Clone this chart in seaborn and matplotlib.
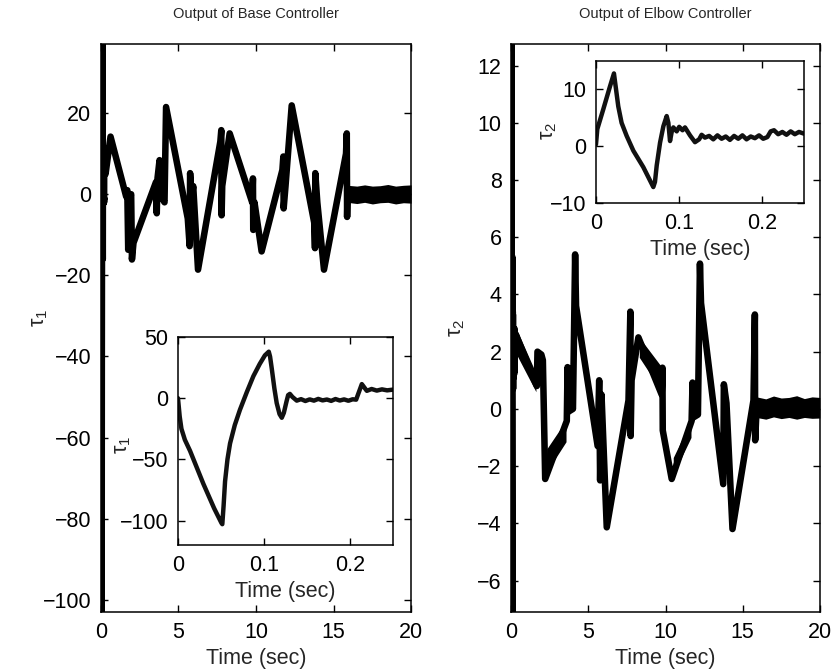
import numpy as np

import matplotlib
matplotlib.use('AGG')
import matplotlib.pyplot as plt
import seaborn as sns
sns.set_theme(style="white", rc={
        "axes.edgecolor": "black",
        "axes.linewidth": 1.1,
        "xtick.direction": "in",
        "ytick.direction": "in",
        "xtick.top": True,
        "ytick.right": True,
        "xtick.bottom": True,
        "ytick.left": True})
plt.rcParams['font.family'] = ['Liberation Sans', 'DejaVu Sans']
plt.rcParams['mathtext.fontset'] = 'custom'
plt.rcParams['mathtext.rm'] = 'Liberation Sans'
plt.rcParams['mathtext.it'] = 'Liberation Sans'

#--------------------------------------------------------------------
# data
#--------------------------------------------------------------------

# base controller, first 0.25 s (inset)
base_zoom_t = [0.0, 0.002, 0.004, 0.008, 0.014, 0.0295, 0.042, 0.0505, 0.0515,
               0.053, 0.0547, 0.0575, 0.0605, 0.066, 0.072, 0.080, 0.0876,
               0.095, 0.101, 0.1055, 0.107, 0.109, 0.112, 0.1147, 0.118,
               0.1206, 0.123, 0.126, 0.128, 0.130, 0.133, 0.138, 0.143, 0.148,
               0.153, 0.158, 0.163, 0.168, 0.173, 0.178, 0.183, 0.188, 0.193,
               0.198, 0.203, 0.207, 0.2136, 0.2194, 0.225, 0.231, 0.237, 0.243,
               0.25]
base_zoom_v = [0.0, -15.0, -25.0, -34.0, -43.0, -70.0, -90.0, -102.0, -103.0,
               -88.0, -68.0, -50.0, -37.0, -22.0, -9.5, 5.0, 18.0,
               28.0, 35.0, 38.0, 34.0, 24.0, 8.0, -4.0, -13.0,
               -16.0, -12.0, -3.0, 2.5, 3.5, 1.0, -2.0, -0.8, -2.3,
               -1.0, -2.0, -0.6, -1.8, -1.1, -2.2, -0.7, -1.9, -1.0,
               -2.1, -0.9, -1.2, 11.5, 6.0, 7.5, 6.2, 7.2, 6.4,
               7.0]

# base controller, 0.25 s .. 20 s
base_t = [0.3, 0.62, 1.63, 1.70, 1.76, 1.85, 1.95, 2.0, 2.1, 3.55, 3.6, 3.65,
          3.78, 3.8, 4.1, 4.2, 5.6, 5.72, 5.75, 5.85, 5.95, 6.26, 7.7, 7.76,
          7.78, 7.82, 8.3, 9.75, 9.8, 9.82, 9.9, 10.36, 11.7, 11.76, 11.78,
          11.9, 12.3, 13.75, 13.8, 13.82, 13.95, 14.38, 15.8, 15.85, 15.87, 15.9]
base_v = [5.0, 14.2, -0.6, 1.0, -13.7, -1.0, 0.0, -16.1, -12.0, 3.0, -4.7, 4.0,
          8.4, 0.0, -2.0, 21.5, -6.0, -12.8, 5.2, -1.0, 2.0, -18.6, 13.0, 15.8,
          -5.2, 2.0, 15.0, -2.0, 3.9, -8.8, -2.0, -14.1, 6.0, 9.3, -3.5,
          2.0, 21.9, -7.0, -13.3, 5.2, -2.0, -18.6, 10.0, 15.0, -5.6, 0.0]

# base controller, noisy tail after 16 s
base_tail_t = [15.9, 16.5, 17.0, 17.5, 18.0, 18.5, 19.0, 19.5, 20.0]
base_tail_hi = [2.2, 2.0, 2.3, 2.0, 2.1, 2.4, 2.0, 2.2, 2.3]
base_tail_lo = [-2.0, -2.3, -2.0, -2.4, -2.1, -2.0, -2.4, -2.1, -2.2]

# elbow controller, first 0.25 s (inset)
elbow_zoom_t = [0.0, 0.0016, 0.0088, 0.0168, 0.0216, 0.0268, 0.0308, 0.0369,
                0.0449, 0.0569, 0.0689, 0.0709, 0.073, 0.077, 0.081, 0.085,
                0.087, 0.089, 0.091, 0.093, 0.097, 0.100, 0.104, 0.107, 0.113,
                0.119, 0.124, 0.127, 0.131, 0.136, 0.141, 0.146, 0.151, 0.156,
                0.161, 0.166, 0.171, 0.176, 0.181, 0.186, 0.191, 0.196, 0.201,
                0.206, 0.210, 0.214, 0.219, 0.224, 0.229, 0.234, 0.239, 0.244,
                0.25]
elbow_zoom_v = [0.3, 3.0, 6.5, 10.5, 12.8, 7.0, 4.1, 1.8,
                -0.8, -3.7, -7.2, -6.3, -3.4, 0.6, 3.5, 5.3,
                4.1, 0.9, 2.5, 3.3, 2.6, 3.4, 2.8, 3.3, 1.9,
                0.7, 1.2, 2.0, 1.5, 1.8, 1.2, 1.9, 1.3, 1.7,
                1.1, 1.8, 1.3, 1.9, 1.2, 1.7, 1.4, 1.9, 1.3,
                1.6, 2.6, 2.8, 2.1, 2.5, 2.0, 2.6, 2.1, 2.5,
                2.2]

# elbow controller, 0.25 s .. 20 s
elbow_t = [0.3, 1.5, 1.66, 1.7, 1.95, 2.05, 2.2, 3.6, 3.65, 3.7, 4.0, 4.14, 4.2,
           5.6, 5.7, 5.76, 5.85, 6.19, 7.6, 7.72, 7.74, 7.8, 8.24, 9.75, 9.8,
           9.82, 10.4, 11.69, 11.75, 11.8, 12.1, 12.23, 12.3, 13.74, 13.78,
           13.95, 14.34, 15.7, 15.79, 15.81, 15.9]
elbow_v = [2.6, 1.0, 0.8, 2.0, 1.9, 1.7, -2.45, -0.42, 1.46, -0.1, 0.0, 5.4, 3.6,
           -1.3, 1.0, -2.5, 0.5, -4.14, 0.3, 3.4, -0.95, 1.0, 2.5, 0.5, 1.44,
           -0.75, -2.45, -0.42, 0.92, -0.3, -0.2, 5.08, 3.7, -2.63, 0.86,
           0.2, -4.2, 0.3, 3.3, -1.1, 0.0]

# elbow controller, noisy stretches drawn as bands
elbow_band_t = [[0.25, 1.6], [2.3, 3.55], [8.3, 9.7], [10.5, 11.65]]
elbow_band_hi = [[2.9, 1.25], [-1.4, -0.4], [2.5, 1.5], [-1.7, -0.4]]
elbow_band_lo = [[2.0, 0.6], [-2.2, -1.15], [1.8, 0.65], [-2.3, -1.0]]

elbow_tail_t = [15.9, 16.5, 17.0, 17.5, 18.0, 18.5, 19.0, 19.5, 20.0]
elbow_tail_hi = [0.42, 0.35, 0.45, 0.38, 0.40, 0.46, 0.36, 0.42, 0.40]
elbow_tail_lo = [-0.30, -0.36, -0.28, -0.34, -0.30, -0.36, -0.30, -0.33, -0.32]

#--------------------------------------------------------------------
# figure
#--------------------------------------------------------------------

FS = 15.5
LABEL = dict(fontsize=FS)
TITLE = dict(fontsize=10.5, pad=19)


def style_axis(ax):
    ax.tick_params(labelsize=FS, length=5, width=1, pad=7, colors='black')
    for s in ax.spines.values():
        s.set_color('black')


fig = plt.figure(figsize=(8.34, 6.72), dpi=100)

# ---- base controller
ax1 = fig.add_axes([0.121, 0.0893, 0.372, 0.845])
sns.lineplot(x=np.concatenate([base_zoom_t, base_t]),
             y=np.concatenate([base_zoom_v, base_v]),
             ax=ax1, color='black', linewidth=4.7, sort=False, estimator=None)
ax1.fill_between(base_tail_t, base_tail_lo, base_tail_hi, color='black', lw=0)
ax1.set_xlim(0, 20)
ax1.set_ylim(-103, 37)
ax1.set_xticks([0, 5, 10, 15, 20])
ax1.set_yticks([-100, -80, -60, -40, -20, 0, 20])
ax1.set_xlabel('Time (sec)', **LABEL)
ax1.set_ylabel(r'$\tau_1$', **LABEL)
ax1.yaxis.set_label_coords(-0.165, 0.518)
ax1.set_title('Output of Base Controller', **TITLE)
style_axis(ax1)

ins1 = fig.add_axes([0.2134, 0.189, 0.258, 0.3095])
sns.lineplot(x=base_zoom_t, y=base_zoom_v, ax=ins1, color='#111111',
             linewidth=3.2, sort=False, estimator=None)
ins1.set_xlim(0, 0.25)
ins1.set_ylim(-120, 50)
ins1.set_xticks([0, 0.1, 0.2])
ins1.set_xticklabels(['0', '0.1', '0.2'])
ins1.set_yticks([-100, -50, 0, 50])
ins1.set_xlabel('Time (sec)', **LABEL)
ins1.set_ylabel(r'$\tau_1$', **LABEL)
ins1.yaxis.set_label_coords(-0.209, 0.48)
style_axis(ins1)

# ---- elbow controller
ax2 = fig.add_axes([0.613, 0.0893, 0.370, 0.845])
sns.lineplot(x=np.concatenate([elbow_zoom_t, elbow_t]),
             y=np.concatenate([elbow_zoom_v, elbow_v]),
             ax=ax2, color='black', linewidth=4.7, sort=False, estimator=None)
for bt, lo, hi in zip(elbow_band_t, elbow_band_lo, elbow_band_hi):
    ax2.fill_between(bt, lo, hi, color='black', lw=0)
ax2.fill_between(elbow_tail_t, elbow_tail_lo, elbow_tail_hi, color='black', lw=0)
ax2.set_xlim(0, 20)
ax2.set_ylim(-7.1, 12.75)
ax2.set_xticks([0, 5, 10, 15, 20])
ax2.set_yticks([-6, -4, -2, 0, 2, 4, 6, 8, 10, 12])
ax2.set_xlabel('Time (sec)', **LABEL)
ax2.set_ylabel(r'$\tau_2$', **LABEL)
ax2.yaxis.set_label_coords(-0.142, 0.5)
ax2.set_title('Output of Elbow Controller', **TITLE)
style_axis(ax2)

ins2 = fig.add_axes([0.7146, 0.698, 0.2494, 0.2113])
sns.lineplot(x=elbow_zoom_t, y=elbow_zoom_v, ax=ins2, color='#111111',
             linewidth=3.2, sort=False, estimator=None)
ins2.set_xlim(0, 0.25)
ins2.set_ylim(-10, 15)
ins2.set_xticks([0, 0.1, 0.2])
ins2.set_xticklabels(['0', '0.1', '0.2'])
ins2.set_yticks([-10, 0, 10])
ins2.set_xlabel('Time (sec)', **LABEL)
ins2.set_ylabel(r'$\tau_2$', **LABEL)
ins2.yaxis.set_label_coords(-0.178, 0.507)
style_axis(ins2)

fig.savefig('out.png', dpi=100)
